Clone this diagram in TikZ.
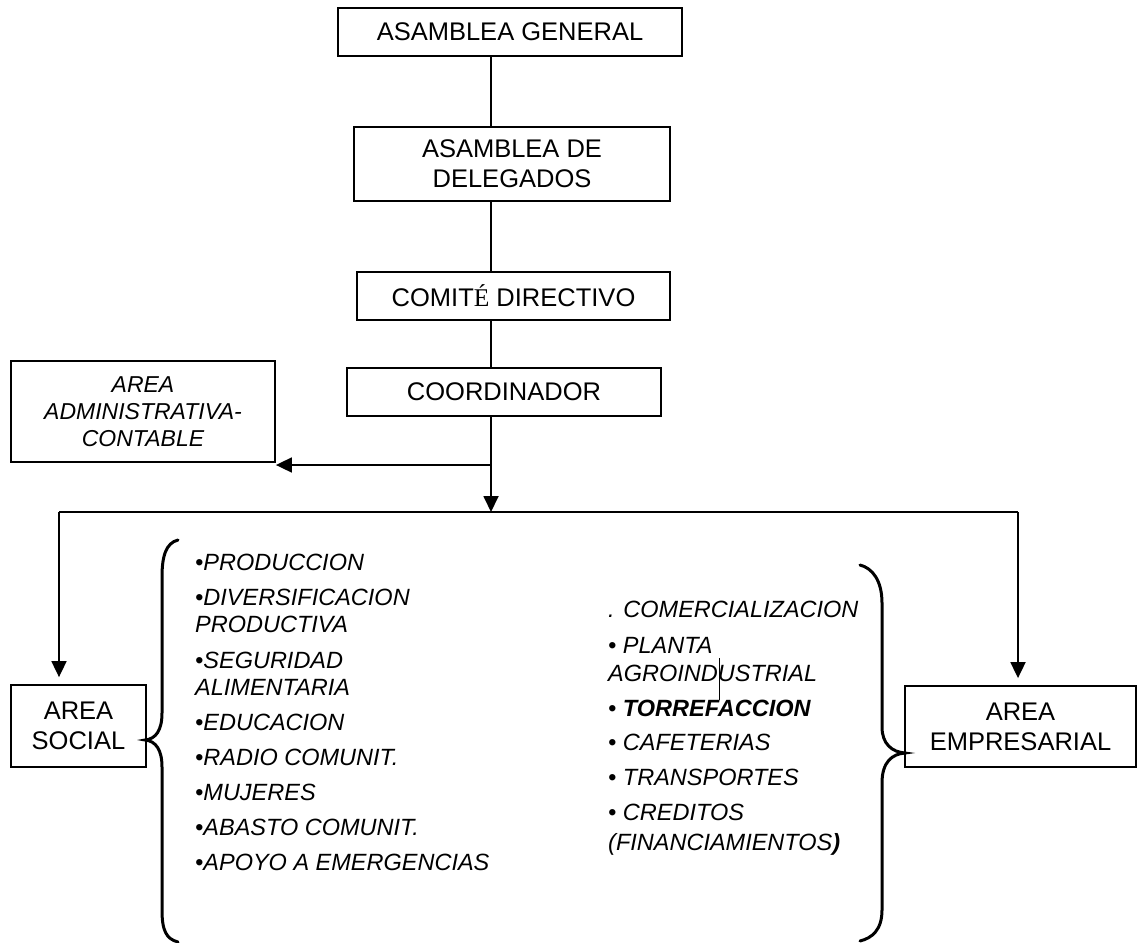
\documentclass[tikz,border=0pt]{standalone}
\usepackage{fontspec}
\setmainfont{Liberation Sans}
\newfontfamily\timesfont{Liberation Serif}
\usetikzlibrary{arrows.meta}
\begin{document}
\begin{tikzpicture}[x=1pt,y=-1pt,
  box/.style={draw, line width=1.8pt, inner sep=0pt, align=center,
    font=\fontsize{25.5}{30}\selectfont},
  link/.style={line width=1.8pt},
  arr/.style={line width=1.8pt, -{Triangle[length=16pt,width=15pt]}},
  brace/.style={line width=3pt, line cap=round},
  item/.style={anchor=base west, inner sep=0pt,
    font=\fontsize{23.5}{27}\selectfont\itshape}]
\useasboundingbox (0,0) rectangle (1139,942);

% hierarchy boxes
\node[box, minimum width=344pt, minimum height=48pt] (AG) at (510,32) {ASAMBLEA GENERAL};
\node[box, minimum width=316pt, minimum height=74pt] (AD) at (512,164) {ASAMBLEA DE\\DELEGADOS};
\node[box, minimum width=313pt, minimum height=48pt] (CD) at (513.5,296) {COMIT{\timesfont É} DIRECTIVO};
\node[box, minimum width=314pt, minimum height=48pt] (CO) at (504,392) {COORDINADOR};
\node[box, minimum width=264pt, minimum height=101pt,
      font=\fontsize{23}{27}\selectfont\itshape] (ADM) at (143,411.5) {AREA\\ADMINISTRATIVA-\\CONTABLE};
\node[box, minimum width=135pt, minimum height=82pt] (AS) at (78.5,726) {AREA\\SOCIAL};
\node[box, minimum width=231pt, minimum height=81pt] (AE) at (1020.5,726.5) {AREA\\EMPRESARIAL};

% connectors
\coordinate (j) at (491,512);
\coordinate (k) at (491,465);
\coordinate (bl) at (59,512);
\coordinate (br) at (1018,512);
\draw[link] (AG.south -| j) -- (AD.north -| j);
\draw[link] (AD.south -| j) -- (CD.north -| j);
\draw[link] (CD.south -| j) -- (CO.north -| j);
\draw[arr] (CO.south -| j) -- (j);
\draw[arr] (k) -- (k -| ADM.east);
\draw[link] (bl) -- (br);
\draw[arr, shorten >=7pt] (bl) -- (AS.north -| bl);
\draw[arr, shorten >=7pt] (br) -- (AE.north -| br);

% braces
\draw[brace] (178,540) .. controls (166,543) and (162,556) .. (162,577)
  -- (162,713) .. controls (162,730) and (156,739) .. (145,740)
  .. controls (156,741) and (162,750) .. (162,767)
  -- (162,910) .. controls (162,930) and (166,939) .. (178,942);
\draw[brace] (860,565) .. controls (872,568) and (882,580) .. (882,603)
  -- (882,727) .. controls (882,744) and (892,752) .. (905,753)
  .. controls (892,754) and (882,762) .. (882,783)
  -- (882,910) .. controls (882,930) and (872,938) .. (860,941);

% social area activities
\foreach \yy/\tt [count=\i] in {
  570.4/•PRODUCCION,
  605.4/•DIVERSIFICACION,
  632.4/PRODUCTIVA,
  668.4/•SEGURIDAD,
  695.4/ALIMENTARIA,
  730.4/•EDUCACION,
  765.4/•RADIO COMUNIT.,
  800.4/•MUJERES,
  835.4/•ABASTO COMUNIT.,
  870.4/•APOYO A EMERGENCIAS}
  \node[item] (s\i) at (195,\yy) {\tt};

% business area activities
\foreach \yy/\tt [count=\i] in {
  617.4/. COMERCIALIZACION,
  653.4/• PLANTA,
  681.4/AGROINDUSTRIAL,
  716.4/{• \textbf{TORREFACCION}},
  750.4/• CAFETERIAS,
  785.4/• TRANSPORTES,
  820.4/• CREDITOS,
  850.4/{(FINANCIAMIENTOS\textbf{)}}}
  \node[item] (e\i) at (608,\yy) {\tt};

% stray text cursor mark
\draw[line width=1pt] (719,658) -- (719,700);
\end{tikzpicture}
\end{document}
